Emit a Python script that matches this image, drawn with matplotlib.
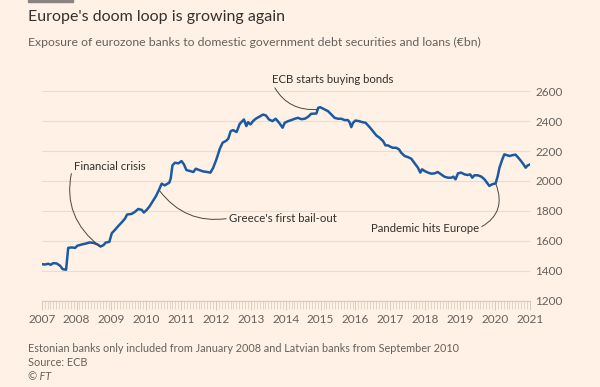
import matplotlib
matplotlib.use('Agg')
import matplotlib.pyplot as plt
from matplotlib.ticker import MultipleLocator
from matplotlib.patches import Rectangle

# ── Data (decimal year, €bn) ──────────────────────────────────────────────────
years = [
    2007.00, 2007.10, 2007.19, 2007.26, 2007.33, 2007.43, 2007.53, 2007.60, 2007.70,
    2007.76, 2007.86, 2007.96, 2008.02, 2008.15, 2008.27, 2008.37, 2008.48, 2008.60,
    2008.69, 2008.77, 2008.84, 2008.94, 2009.01, 2009.10, 2009.20, 2009.29, 2009.39,
    2009.45, 2009.58, 2009.67, 2009.77, 2009.87, 2009.93, 2010.01, 2010.09, 2010.18,
    2010.28, 2010.37, 2010.44, 2010.53, 2010.66, 2010.70, 2010.75, 2010.82, 2010.92,
    2011.01, 2011.08, 2011.15, 2011.25, 2011.35, 2011.42, 2011.52, 2011.63, 2011.75,
    2011.84, 2011.92, 2012.01, 2012.11, 2012.19, 2012.28, 2012.35, 2012.42, 2012.49,
    2012.59, 2012.68, 2012.80, 2012.87, 2012.92, 2012.99, 2013.06, 2013.14, 2013.24,
    2013.35, 2013.43, 2013.52, 2013.62, 2013.71, 2013.81, 2013.91, 2013.97, 2014.07,
    2014.16, 2014.26, 2014.35, 2014.45, 2014.55, 2014.64, 2014.73, 2014.88, 2014.93,
    2014.99, 2015.12, 2015.21, 2015.31, 2015.40, 2015.50, 2015.59, 2015.69, 2015.78,
    2015.83, 2015.88, 2015.93, 2016.00, 2016.10, 2016.20, 2016.29, 2016.36, 2016.42,
    2016.50, 2016.60, 2016.69, 2016.79, 2016.86, 2016.93, 2017.00, 2017.07, 2017.17,
    2017.25, 2017.31, 2017.41, 2017.50, 2017.60, 2017.70, 2017.79, 2017.86, 2017.91,
    2017.98, 2018.08, 2018.17, 2018.27, 2018.36, 2018.46, 2018.55, 2018.65, 2018.75,
    2018.81, 2018.87, 2018.94, 2019.03, 2019.13, 2019.22, 2019.29, 2019.35, 2019.41,
    2019.51, 2019.61, 2019.70, 2019.77, 2019.84, 2019.92, 2020.02, 2020.08, 2020.13,
    2020.21, 2020.27, 2020.34, 2020.42, 2020.51, 2020.59, 2020.68, 2020.75, 2020.82,
    2020.88, 2020.94, 2020.99,
]
exposure = [
    1444, 1442, 1447, 1440, 1451, 1449, 1433, 1411, 1407,
    1553, 1556, 1553, 1567, 1576, 1582, 1589, 1587, 1576,
    1562, 1571, 1589, 1593, 1651, 1673, 1700, 1722, 1749,
    1776, 1780, 1793, 1813, 1807, 1789, 1807, 1829, 1862,
    1900, 1944, 1982, 1971, 1989, 2016, 2104, 2122, 2118,
    2133, 2111, 2073, 2067, 2060, 2082, 2073, 2064, 2060,
    2056, 2089, 2144, 2216, 2256, 2267, 2282, 2333, 2340,
    2327, 2382, 2411, 2367, 2393, 2378, 2400, 2416, 2429,
    2444, 2438, 2411, 2400, 2416, 2389, 2356, 2389, 2400,
    2407, 2416, 2422, 2413, 2416, 2429, 2449, 2451, 2489,
    2493, 2478, 2467, 2444, 2422, 2416, 2416, 2407, 2407,
    2393, 2360, 2389, 2404, 2400, 2393, 2389, 2371, 2356,
    2333, 2304, 2289, 2267, 2238, 2238, 2229, 2222, 2222,
    2211, 2189, 2167, 2160, 2149, 2118, 2089, 2056, 2078,
    2067, 2056, 2049, 2051, 2060, 2044, 2029, 2022, 2022,
    2029, 2011, 2051, 2056, 2044, 2040, 2044, 2022, 2038,
    2038, 2029, 2011, 1989, 1967, 1978, 1984, 2033, 2089,
    2144, 2178, 2173, 2167, 2173, 2176, 2153, 2133, 2111,
    2089, 2104, 2109,
]

# annotation texts, text anchor (year, value), point on the line (year, value)
notes = [
    ("Financial crisis",        (2007.93, 2098), (2008.68, 1560)),
    ("Greece's first bail-out", (2012.37, 1751), (2010.38, 1935)),
    ("ECB starts buying bonds", (2013.60, 2678), (2014.92, 2478)),
    ("Pandemic hits Europe",    (2016.44, 1685), (2020.03, 1978)),
]

# ── Style ─────────────────────────────────────────────────────────────────────
BG    = '#FFF1E5'
BLUE  = '#1B5AA2'
GRID  = '#E9DCD0'
TICK  = '#D6CABF'
TEXT  = '#33302E'
GREY  = '#66605C'

plt.rcParams['font.family'] = ['Lato', 'DejaVu Sans']

fig = plt.figure(figsize=(6, 3.87), dpi=100, facecolor=BG)
ax = fig.add_axes([0.0695, 0.223, 0.8135, 0.58])
ax.set_facecolor(BG)

ax.plot(years, exposure, color=BLUE, lw=1.8, solid_joinstyle='round', zorder=3)

ax.set_xlim(2007, 2021)
ax.set_ylim(1200, 2700)
ax.set_yticks(range(1200, 2601, 200))
ax.yaxis.tick_right()
ax.tick_params(axis='y', length=0, pad=4, labelsize=8.5, labelcolor=GREY)
ax.yaxis.grid(True, color=GRID, lw=0.8)
ax.set_axisbelow(True)

ax.set_xticks(range(2007, 2022))
ax.xaxis.set_minor_locator(MultipleLocator(1 / 12))
ax.tick_params(axis='x', which='major', length=6.5, width=0.7, color=TICK,
               pad=3, labelsize=8.5, labelcolor=GREY)
ax.tick_params(axis='x', which='minor', length=5.5, width=0.5, color=TICK)

for s in ['top', 'right', 'left']:
    ax.spines[s].set_visible(False)
ax.spines['bottom'].set_color(TICK)
ax.spines['bottom'].set_linewidth(0.8)

# ── Annotations ───────────────────────────────────────────────────────────────
styles = [
    dict(rad=0.35, relpos=(0.0, 0.8)),
    dict(rad=-0.3, relpos=(0.0, 0.5)),
    dict(rad=0.35, relpos=(0.0, 0.3)),
    dict(rad=0.45, relpos=(1.0, 0.5)),
]
for (label, txt_xy, pt_xy), st in zip(notes, styles):
    ax.annotate(label, xy=pt_xy, xytext=txt_xy, ha='left', va='center',
                fontsize=8.2, color=TEXT, annotation_clip=False,
                arrowprops=dict(arrowstyle='-', color='#4a4542', lw=0.7,
                                connectionstyle=f"arc3,rad={st['rad']}",
                                relpos=st['relpos'], shrinkA=0, shrinkB=0))

# ── Titles & footer ───────────────────────────────────────────────────────────
fig.patches.append(Rectangle((28 / 600, 1 - 2 / 387), 45 / 600, 2 / 387,
                             transform=fig.transFigure, color='#8a8380'))
fig.text(28 / 600, 1 - 17 / 387, "Europe's doom loop is growing again",
         fontsize=11.5, color=TEXT, va='center', ha='left')
fig.text(28 / 600, 1 - 42 / 387,
         "Exposure of eurozone banks to domestic government debt securities and loans (€bn)",
         fontsize=8.8, color=GREY, va='center', ha='left')

fig.text(28 / 600, 1 - 349 / 387,
         "Estonian banks only included from January 2008 and Latvian banks from September 2010",
         fontsize=7.8, color=GREY, va='center', ha='left')
fig.text(28 / 600, 1 - 362 / 387, "Source: ECB",
         fontsize=7.8, color=GREY, va='center', ha='left')
fig.text(28 / 600, 1 - 376 / 387, "© FT",
         fontsize=7.8, color=GREY, va='center', ha='left', style='italic')

plt.savefig('out.png', dpi=100, facecolor=BG)
